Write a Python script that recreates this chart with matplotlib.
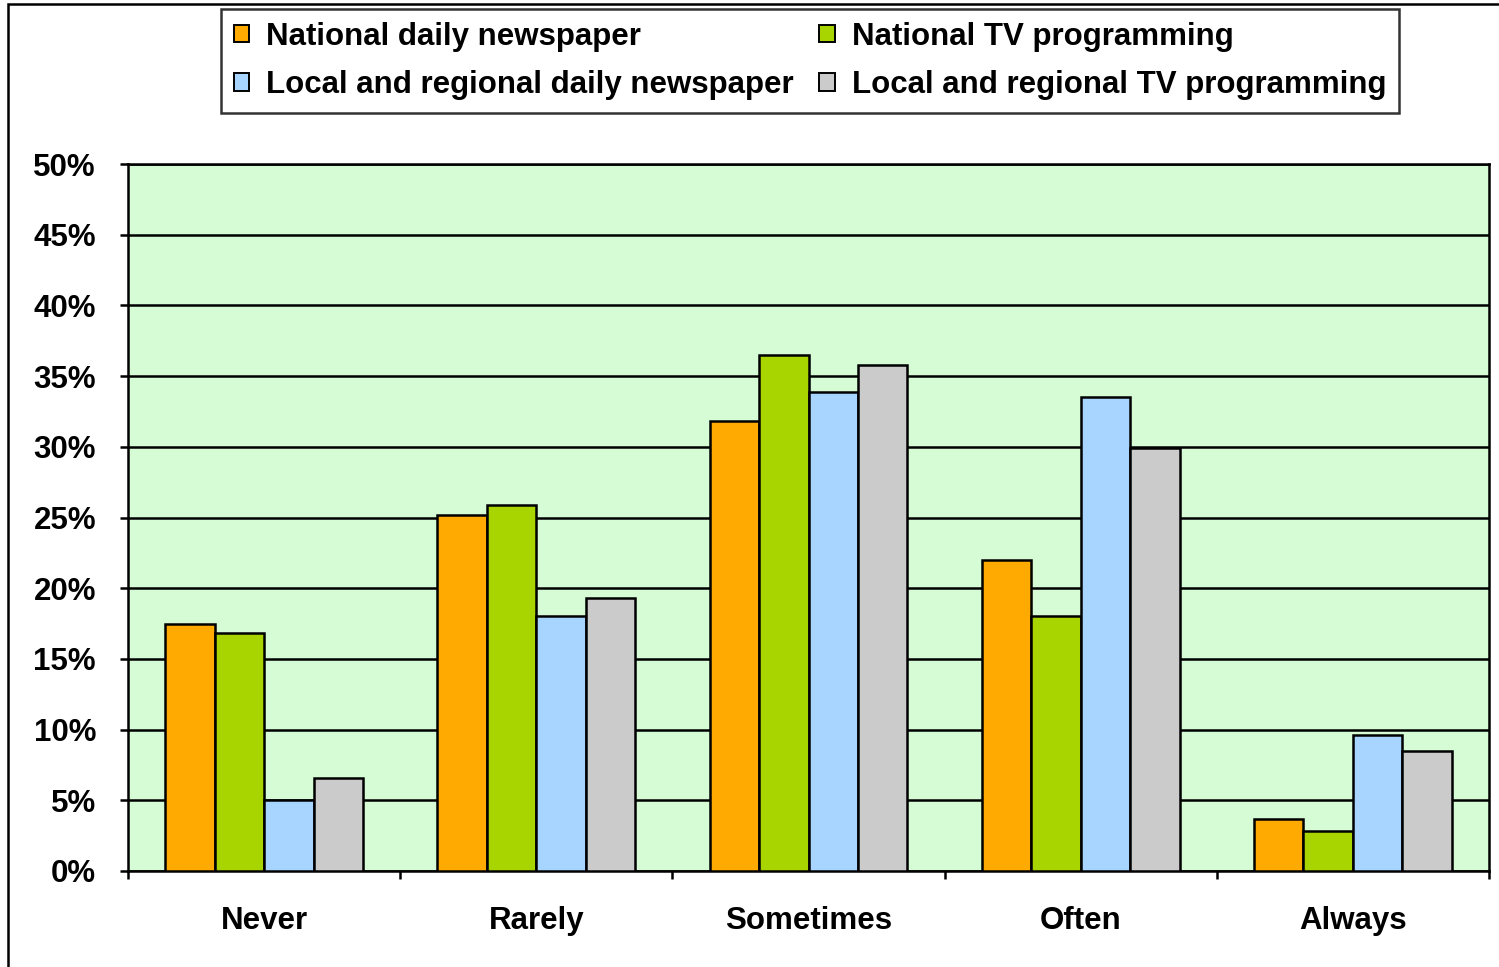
import matplotlib
matplotlib.use("Agg")
import matplotlib.pyplot as plt
import numpy as np
from matplotlib.patches import Rectangle
from matplotlib.ticker import FuncFormatter, MultipleLocator

plt.rcParams["font.family"] = ["Liberation Sans", "DejaVu Sans"]
plt.rcParams["font.weight"] = "bold"

categories = ["Never", "Rarely", "Sometimes", "Often", "Always"]
series_names = [
    "National daily newspaper",
    "National TV programming",
    "Local and regional daily newspaper",
    "Local and regional TV programming",
]
national_paper = [17.5, 25.2, 31.8, 22.0, 3.7]
national_tv = [16.8, 25.9, 36.5, 18.0, 2.8]
local_paper = [5.0, 18.0, 33.9, 33.5, 9.6]
local_tv = [6.6, 19.3, 35.8, 29.9, 8.5]
series = [national_paper, national_tv, local_paper, local_tv]
colors = ["#FFAA00", "#A8D500", "#A8D5FF", "#CBCBCB"]

FS = 22.5
LW = 1.8

W, H = 1499, 967
fig = plt.figure(figsize=(W / 100, H / 100), dpi=100)
ax = fig.add_axes([128 / W, 1 - 871 / H, (1489 - 128) / W, (871 - 164) / H])
ax.set_facecolor("#D5FCD5")

# excel-style clustered bars: gap width 150% of a bar
x = np.arange(len(categories))
bw = 1 / 5.5
bars = []
for i, (vals, c) in enumerate(zip(series, colors)):
    b = ax.bar(x + (i - 1.5) * bw, vals, width=bw, color=c,
               edgecolor="black", linewidth=LW, zorder=3)
    bars.append(b)

ax.set_xlim(-0.5, len(categories) - 0.5)
ax.set_ylim(0, 50)
ax.yaxis.set_major_locator(MultipleLocator(5))
ax.yaxis.set_major_formatter(FuncFormatter(lambda v, _: f"{v:.0f}%"))
ax.grid(axis="y", color="black", linewidth=LW, zorder=1)
ax.set_axisbelow(True)

for s in ax.spines.values():
    s.set_linewidth(LW)
    s.set_color("black")

ax.set_xticks(x)
ax.set_xticklabels(categories)
ax.set_xticks(np.arange(len(categories) + 1) - 0.5, minor=True)
ax.tick_params(axis="x", which="major", length=0, pad=25, labelsize=FS)
ax.tick_params(axis="x", which="minor", length=6, width=LW, direction="out")
ax.tick_params(axis="y", length=6, width=LW, direction="out", pad=17,
               labelsize=FS)

leg = fig.legend(
    [bars[0], bars[2], bars[1], bars[3]],
    [series_names[0], series_names[2], series_names[1], series_names[3]],
    ncol=2, loc="center", bbox_to_anchor=(810 / W, 1 - 61 / H),
    fontsize=FS, frameon=True, fancybox=False, shadow=False,
    handlelength=0.5, handleheight=0.5, handletextpad=0.55,
    columnspacing=0.8, labelspacing=0.6, borderpad=0.4,
)
leg.get_frame().set_edgecolor("black")
leg.get_frame().set_linewidth(LW)
for p in leg.get_patches():
    p.set_linewidth(1.4)

# outer chart border
fig.patches.append(Rectangle((8 / W, -0.1), 1.2, 1 - 4 / H + 0.1,
                             transform=fig.transFigure, fill=False,
                             edgecolor="black", linewidth=LW))

fig.savefig("out.png", dpi=100)
